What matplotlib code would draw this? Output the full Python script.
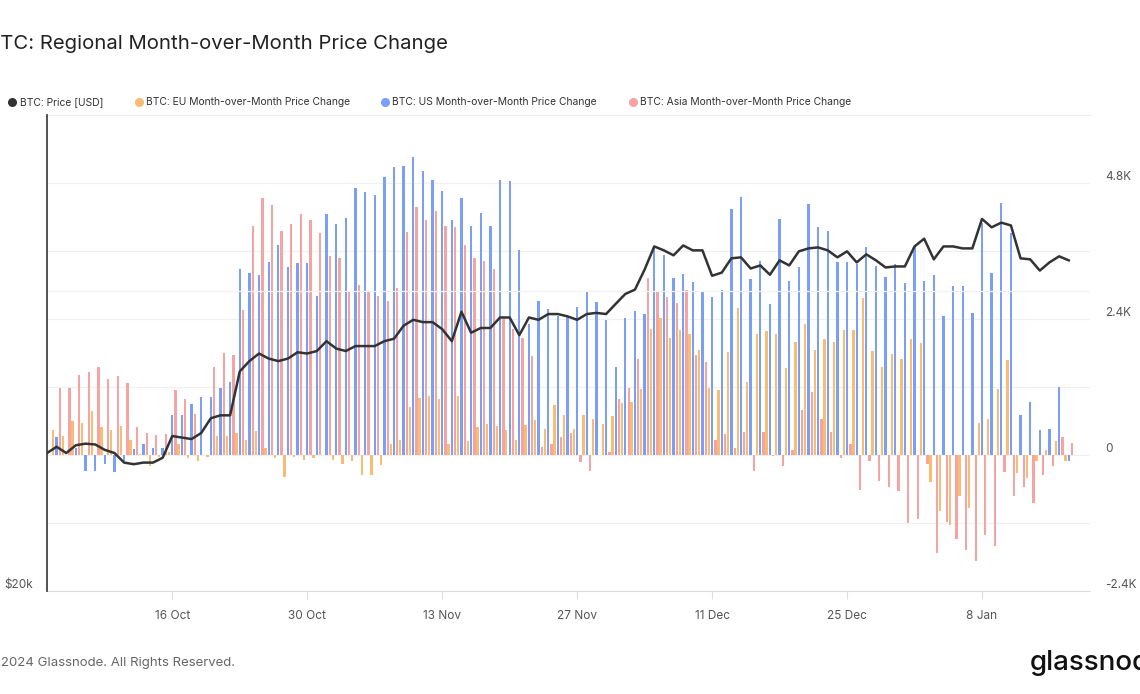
import matplotlib
matplotlib.use("Agg")
import matplotlib.pyplot as plt
import matplotlib.dates as mdates
import matplotlib.ticker as mticker
from matplotlib.lines import Line2D
import numpy as np
import pandas as pd

plt.rcParams["font.family"] = ["Inter", "DejaVu Sans"]

# BTC price (thousand USD), daily from 3 Oct 2023
price_k = [
    27.5, 27.9, 27.5, 28.0, 28.1, 28.05, 27.7, 27.5, 26.9, 26.8,
    26.9, 26.9, 27.2, 28.6, 28.5, 28.4, 28.8, 29.8, 30.0, 30.0,
    33.2, 34.0, 34.6, 34.2, 34.0, 34.2, 34.7, 34.6, 34.8, 35.6,
    35.0, 34.8, 35.2, 35.2, 35.2, 35.6, 35.8, 36.9, 37.4, 37.2,
    37.2, 36.6, 35.6, 38.1, 36.3, 36.7, 36.7, 37.6, 37.6, 36.1,
    37.6, 37.4, 37.9, 37.9, 37.7, 37.4, 37.9, 38.0, 37.9, 38.8,
    39.7, 40.1, 42.0, 44.3, 43.9, 43.4, 44.4, 43.9, 43.9, 41.4,
    41.7, 43.1, 43.2, 42.1, 42.4, 41.5, 42.9, 42.4, 43.8, 44.1,
    44.2, 43.9, 43.2, 43.8, 42.7, 43.5, 42.9, 42.2, 42.3, 42.3,
    44.3, 45.1, 43.0, 44.3, 44.3, 44.1, 44.1, 47.2, 46.3, 46.8,
    46.5, 43.1, 43.0, 41.9, 42.7, 43.3, 42.9,
]

# month-over-month price change (thousand USD), daily from 4 Oct 2023
eu_mom = [
    0.44, 0.34, 0.60, 0.57, 0.77, 0.50, 0.44, 0.52, 0.26, 0.02,
    -0.19, -0.03, 0.06, 0.20, -0.06, -0.10, -0.03, 0.34, 0.34, 0.39,
    0.26, 0.43, 0.12, -0.05, -0.38, -0.03, -0.08, -0.05, 0.0, -0.09,
    -0.15, -0.11, -0.36, -0.36, -0.17, 0.19, 0.26, 0.85, 1.01, 1.04,
    0.98, 0.19, 1.04, 0.25, 0.50, 0.55, 0.52, 0.44, 0.26, 0.53,
    0.62, 0.46, 0.88, 0.71, 0.46, 0.70, 0.63, 0.55, 0.68, 0.91,
    0.93, 1.17, 2.22, 2.42, 2.07, 2.21, 2.14, 1.86, 1.18, 1.15,
    1.82, 2.59, 1.29, 2.14, 2.18, 2.13, 1.54, 2.00, 2.31, 1.86,
    2.05, 2.00, 2.20, 2.20, 2.77, 1.83, 1.56, 1.78, 1.70, 2.05,
    1.97, -0.48, -0.98, -1.24, -0.73, -0.93, 0.56, 0.64, 1.17, 1.67,
    -0.32, -0.40, -0.10, 0.08, 0.25, -0.10,
]
us_mom = [
    0.32, 0.0, 0.13, -0.28, -0.28, -0.16, -0.30, -0.10, 0.10, 0.19,
    0.13, 0.13, 0.70, 0.70, 0.90, 1.02, 1.02, 1.19, 1.28, 3.28,
    3.21, 3.17, 3.41, 3.70, 3.32, 3.39, 3.39, 2.81, 4.26, 4.07,
    4.19, 4.72, 4.64, 4.58, 4.91, 5.08, 5.10, 5.26, 5.01, 4.85,
    4.65, 4.15, 4.53, 4.04, 4.27, 4.04, 4.85, 4.83, 3.62, 2.32,
    2.72, 2.58, 2.45, 2.45, 2.62, 2.90, 2.70, 2.39, 1.56, 2.41,
    2.54, 2.48, 3.66, 3.53, 3.12, 3.19, 3.06, 2.90, 2.79, 2.92,
    4.34, 4.56, 3.11, 3.43, 2.66, 4.16, 3.07, 3.32, 4.43, 4.03,
    3.96, 3.40, 3.40, 3.37, 3.67, 3.34, 3.15, 3.37, 3.04, 3.67,
    3.07, 3.17, 2.45, 2.99, 2.99, 2.50, 4.10, 3.21, 4.45, 3.91,
    0.71, 0.93, 0.44, 0.46, 1.20, -0.10,
]
asia_mom = [
    1.19, 1.19, 1.42, 1.46, 1.55, 1.35, 1.40, 1.27, 0.50, 0.39,
    0.35, 0.37, 1.14, 0.99, 0.73, 0.0, 1.55, 1.80, 1.76, 2.56,
    4.04, 4.54, 4.42, 3.96, 4.07, 4.26, 4.15, 3.91, 3.51, 3.47,
    2.90, 3.00, 2.89, 2.81, 2.72, 2.94, 3.93, 4.38, 4.15, 4.31,
    4.04, 4.02, 3.71, 3.48, 3.43, 3.28, 2.40, 2.22, 2.07, 1.74,
    0.14, 0.19, 0.32, 0.39, -0.12, -0.28, 0.0, 0.06, 0.98, 1.18,
    1.69, 3.13, 2.88, 2.79, 2.69, 2.92, 1.77, 1.64, 0.26, 0.37,
    0.12, 0.40, -0.28, 0.40, -0.01, -0.19, 0.08, 0.80, 1.11, 0.64,
    0.40, -0.06, 0.19, -0.61, -0.10, -0.45, -0.57, -0.63, -1.20, -1.13,
    -0.16, -1.73, -1.18, -1.48, -1.67, -1.87, -1.41, -1.61, -0.30, -0.73,
    -0.56, -0.85, -0.36, -0.19, 0.32, 0.22,
]

tick_dates = ["2023-10-16", "2023-10-30", "2023-11-13", "2023-11-27",
              "2023-12-11", "2023-12-25", "2024-01-08"]
tick_labels = ["16 Oct", "30 Oct", "13 Nov", "27 Nov", "11 Dec", "25 Dec", "8 Jan"]
right_ticks = [-2.4, -1.2, 0, 1.2, 2.4, 3.6, 4.8]
right_labels = ["-2.4K", "", "0", "", "2.4K", "", "4.8K"]

C_PRICE = "#333333"
C_EU = "#f8bd72"
C_US = "#7b9ff5"
C_ASIA = "#f5a3a3"
C_TEXT = "#555555"

price_dates = pd.date_range("2023-10-03", periods=len(price_k), freq="D")
bar_dates = pd.date_range("2023-10-04", periods=len(us_mom), freq="D")
xb = mdates.date2num(bar_dates)
x0 = mdates.date2num(price_dates[0])

fig = plt.figure(figsize=(11.4, 6.94), dpi=100)
ax = fig.add_axes([0.0412, 0.1484, 0.9149, 0.6859])
ax2 = ax.twinx()  # price, log scale, ticks on the left

w = 0.24
ax.bar(xb - 0.345, eu_mom, width=w, color=C_EU, zorder=2)
ax.bar(xb, us_mom, width=w, color=C_US, zorder=2)
ax.bar(xb + 0.345, asia_mom, width=w, color=C_ASIA, zorder=2)

ax.set_xlim(x0, x0 + 108.2)
ax.set_ylim(-2.4, 6.0)
ax.set_yticks(right_ticks)
ax.set_yticklabels(right_labels)
ax.grid(axis="y", color="#f0f0f0", linewidth=0.9, zorder=0)
ax.set_axisbelow(True)

ax.set_xticks(mdates.date2num(pd.to_datetime(tick_dates)))
ax.set_xticklabels(tick_labels)
ax.tick_params(axis="x", length=6, color="#dddddd", pad=8, labelsize=8.5,
               labelcolor=C_TEXT)

for side in ("right", "left"):
    ax.spines[side].set_visible(False)
ax.spines["bottom"].set_color("#dddddd")
ax.spines["top"].set_color("#eeeeee")

ax2.plot(price_dates, np.array(price_k) * 1000, color=C_PRICE, linewidth=1.8, zorder=3)
ax2.set_yscale("log")
ax2.set_ylim(20000, 60000)
ax2.yaxis.set_major_locator(mticker.FixedLocator([20000, 40000]))
ax2.yaxis.set_major_formatter(mticker.FixedFormatter(["$20k", ""]))
ax2.yaxis.set_minor_locator(mticker.NullLocator())
ax2.grid(axis="y", color="#f3f3f3", linewidth=0.9)
for side in ("right", "top", "bottom"):
    ax2.spines[side].set_visible(False)
ax2.spines["left"].set_color("#444444")
ax2.spines["left"].set_linewidth(1.3)
ax2.set_xlim(x0, x0 + 108.2)

# swap sides after twinx: bars scale on the right, price on the left
ax.yaxis.tick_right()
ax2.yaxis.tick_left()
ax.tick_params(axis="y", length=0, pad=11, labelsize=8.5, labelcolor=C_TEXT)
ax2.tick_params(axis="y", length=0, pad=10, labelsize=8.5, labelcolor=C_TEXT)
for t in ax.get_yticklabels() + ax2.get_yticklabels():
    t.set_verticalalignment("bottom")

# title, legend, footer
fig.text(-0.0115, 1 - 44 / 694, "BTC: Regional Month-over-Month Price Change",
         fontsize=14.6, color="#222222", va="center", ha="left")

legend_items = [
    (12, 20, "BTC: Price [USD]", C_PRICE),
    (139, 146, "BTC: EU Month-over-Month Price Change", C_EU),
    (385, 392, "BTC: US Month-over-Month Price Change", C_US),
    (633, 640, "BTC: Asia Month-over-Month Price Change", C_ASIA),
]
ly = 1 - 102 / 694
for xd, xt, label, col in legend_items:
    fig.add_artist(Line2D([xd / 1140], [ly], marker="o", markersize=5.5,
                          color=col, linestyle="", transform=fig.transFigure))
    fig.text(xt / 1140, ly, label, fontsize=7.4, color="#333333", va="center")

fig.text(-0.013, 1 - 663 / 694, "© 2024 Glassnode. All Rights Reserved.",
         fontsize=9.5, color="#666666", va="center", ha="left")
fig.text(1030 / 1140, 1 - 663 / 694, "glassnode", fontsize=20, color="#111111",
         va="center", ha="left", fontweight="medium")

fig.savefig("out.png", dpi=100)
